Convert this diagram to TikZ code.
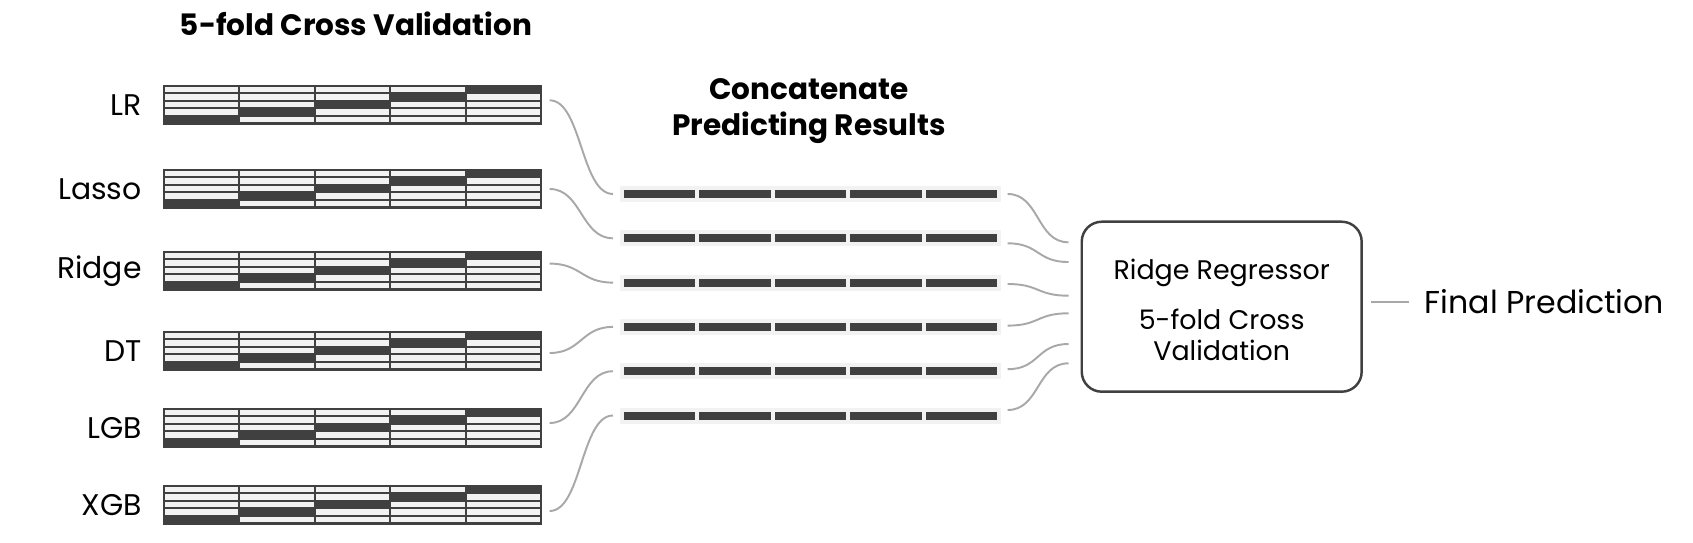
\documentclass[tikz,border=0pt]{standalone}
\usepackage{fontspec}
\setmainfont{Poppins}
\usetikzlibrary{positioning,calc}
\definecolor{celldark}{HTML}{404040}
\definecolor{celllight}{HTML}{F2F2F2}
\definecolor{wire}{HTML}{A8A8A8}

\begin{document}
\begin{tikzpicture}[x=0.02cm,y=-0.02cm,
  every node/.style={inner sep=0pt,font=\fontsize{17}{19}\selectfont},
  hd/.style={font=\fontsize{16.8}{20.8}\selectfont\bfseries,align=center},
  fold/.style={fill=celldark,minimum width=7.58cm,minimum height=0.786cm,anchor=north west},
  preds/.style={fill=celllight,minimum width=7.62cm,minimum height=0.32cm,anchor=west},
  cv/.style={wire,line width=1.1pt},
  rg/.style={draw=celldark,line width=1.4pt,rounded corners=0.4cm,minimum width=5.6cm,minimum height=3.4cm},
  rgtext/.style={align=center,font=\fontsize{15.3}{17.6}\selectfont}]
\useasboundingbox (0,0) rectangle (1693,542);

\node[hd] (h1) at (356,24) {5-fold Cross Validation};
\node[hd] (h2) at (809,111) {Concatenate\\Predicting Results};

% base models, one 5x5 fold grid each
\foreach \nm/\yt [count=\k] in {LR/85,Lasso/169,Ridge/251,DT/331,LGB/408,XGB/485} {
  \node[fold] (g\k) at (163,\yt) {};
  \node[left=0.42cm of g\k] (n\k) {\nm};
  \foreach \i in {0,...,4} \foreach \j in {0,...,4} {
    \ifnum\numexpr\i+\j\relax=4 \else
      \fill[celllight] ($(g\k.north west)+({2+\j*75.4},{2+\i*7.46})$) rectangle ++(73.4,5.46);
    \fi
  }
}

% stacked predictions
\foreach \k in {1,...,6} {
  \node[preds] (b\k) at (620,{194+(\k-1)*44.3}) {};
  \foreach \j in {0,...,4}
    \fill[celldark] ($(b\k.west)+({4+\j*75.4},-4)$) rectangle ++(71.4,8);
}

\node[rg] (rg) at (1221.7,306.7) {};
\node[rgtext] (rgt) at ($(rg.center)+(0,3.4)$) {\raisebox{-2pt}{Ridge Regressor}\\[11.8pt]5-fold Cross\\Validation};
\node[right=1.23cm of rg,yshift=0.1cm,font=\fontsize{18}{20}\selectfont] (fp) {Final Prediction};

\foreach \k/\dy in {1/-4.7,2/0,3/-7.4,4/2,5/-5,6/6}
  \draw[cv] ($(g\k.east)+(7,\dy)$) .. controls +(32,0) and +(-32,0) .. ($(b\k.west)+(-7,0)$);
\foreach \k/\sy/\ey in {1/0/-64.4,2/5/-44.7,3/1.4/-11,4/-1.3/6.6,5/-2/37.3,6/-5.5/56.6}
  \draw[cv] ($(b\k.east)+(6,\sy)$) .. controls +(32,0) and +(-32,0) .. ($(rg.west)+(-12,\ey)$);
\draw[cv] ($(rg.east |- fp.west)+(8,0)$) -- ($(fp.west)+(-15,0)$);
\end{tikzpicture}
\end{document}
